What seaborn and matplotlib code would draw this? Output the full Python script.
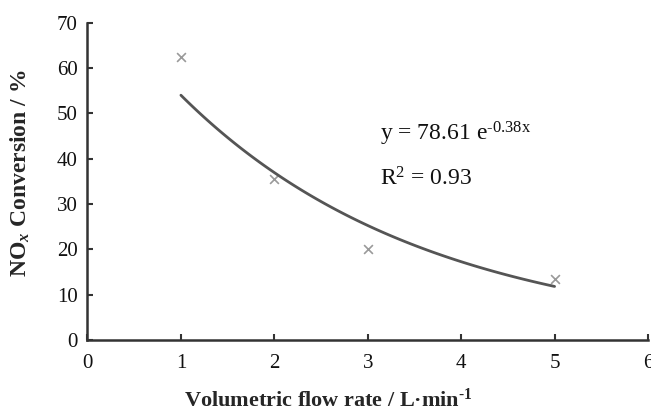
import numpy as np
import pandas as pd
import matplotlib
matplotlib.use("Agg")
import matplotlib.pyplot as plt
import seaborn as sns

# data
flow_rate = [1, 2, 3, 5]
nox_conversion = [62.4, 35.6, 20.0, 13.4]

x_ticks = [0, 1, 2, 3, 4, 5, 6]
y_ticks = [0, 10, 20, 30, 40, 50, 60, 70]

sns.set_theme(style="ticks")
plt.rcParams["font.family"] = ["Liberation Serif", "DejaVu Serif"]
plt.rcParams["mathtext.fontset"] = "custom"
plt.rcParams["mathtext.rm"] = "Liberation Serif"
plt.rcParams["mathtext.it"] = "Liberation Serif:italic:bold"
plt.rcParams["mathtext.bf"] = "Liberation Serif:bold"

df = pd.DataFrame({"x": flow_rate, "y": nox_conversion})

# exponential trend line fitted to the points (y = a e^{bx})
b, ln_a = np.polyfit(df["x"], np.log(df["y"]), 1)
x_fit = np.linspace(min(flow_rate), max(flow_rate), 100)
fit_df = pd.DataFrame({"x": x_fit, "y": np.exp(ln_a) * np.exp(b * x_fit)})

fig = plt.figure(figsize=(6.51, 4.12), dpi=100)
# the original is cropped on the right: x = 6 sits at the figure edge
ax = fig.add_axes([0.1344, 0.1748, 0.861, 0.770])

sns.lineplot(data=fit_df, x="x", y="y", ax=ax, color="#555555", lw=2)
sns.scatterplot(data=df, x="x", y="y", ax=ax, marker="x", s=40,
                color="#9a9a9a", linewidth=1.2)

ax.text(3.13, 44.0, "y = 78.61 e$^{\\mathrm{\u20100.38x}}$", fontsize=17,
        color="#111111", va="baseline")
ax.text(3.13, 34.0, r"R$^{\mathrm{2}}$ = 0.93", fontsize=17,
        color="#111111", va="baseline")

ax.set_xlim(0, 6)
ax.set_ylim(0, 70)
ax.set_xticks(x_ticks)
ax.set_yticks(y_ticks)
ax.tick_params(direction="in", length=4, width=1.5, color="#333333",
               labelsize=15, labelcolor="#111111")
ax.tick_params(axis="x", pad=10)
ax.tick_params(axis="y", pad=7)
for side in ["top", "right"]:
    ax.spines[side].set_visible(False)
for side in ["left", "bottom"]:
    ax.spines[side].set_color("#333333")
    ax.spines[side].set_linewidth(1.8)

ax.set_xlabel("Volumetric flow rate / L\u00b7min$^{\\mathbf{\u20101}}$",
              fontsize=16, fontweight="bold", va="bottom")
ax.xaxis.set_label_coords(0.429, -0.2253)
ax.set_ylabel(r"NO$_{\mathit{x}}$ Conversion / %", fontsize=17,
              fontweight="bold", va="center")
ax.yaxis.set_label_coords(-0.1197, 0.526)

fig.savefig("out.png", dpi=100)
